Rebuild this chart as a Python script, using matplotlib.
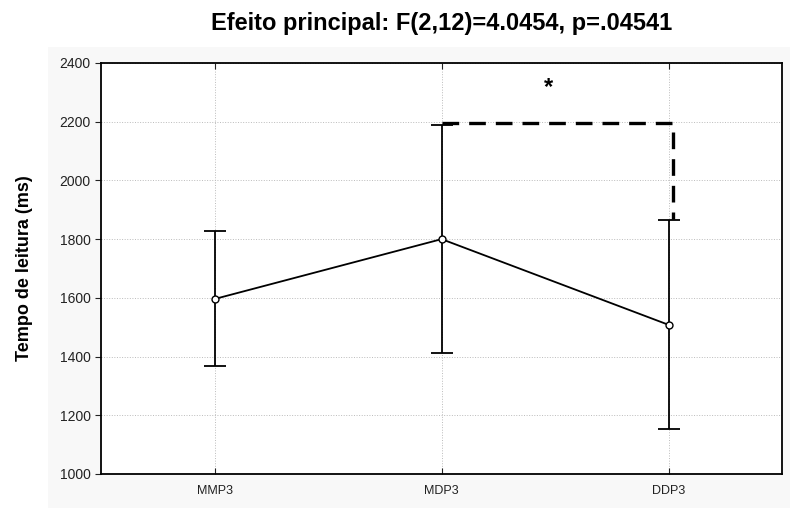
import matplotlib.pyplot as plt
import matplotlib.patches as patches

plt.rcParams['font.family'] = ['Liberation Sans', 'DejaVu Sans']

# data
conditions = ['MMP3', 'MDP3', 'DDP3']
means = [1596, 1800, 1508]
upper = [1828, 2189, 1866]
lower = [1368, 1411, 1153]

bracket_y = 2196
bracket_bottom = 1868
star_y = 2318

x = list(range(len(conditions)))
err_low = [m - lo for m, lo in zip(means, lower)]
err_high = [hi - m for m, hi in zip(means, upper)]

fig = plt.figure(figsize=(7.9, 5.08), dpi=100, facecolor='white')
# light grey panel behind the graph area
fig.patches.append(patches.Rectangle((48 / 790, 0), 1 - 48 / 790, 1 - 47 / 508,
                                     transform=fig.transFigure, facecolor='#f8f8f8',
                                     edgecolor='none', zorder=-1))
ax = fig.add_axes([0.128, 0.067, 0.862, 0.809])
ax.set_facecolor('white')

ax.errorbar(x, means, yerr=[err_low, err_high], color='black', lw=1.3,
            capsize=8, capthick=1.3, marker='o', markersize=5,
            markerfacecolor='white', markeredgecolor='black', zorder=3)

# significance bracket between MDP3 and DDP3
ax.plot([x[1], x[2] + 0.02, x[2] + 0.02], [bracket_y, bracket_y, bracket_bottom],
        color='black', lw=2.4, linestyle=(0, (5, 3.0)), zorder=4)
ax.text((x[1] + x[2]) / 2 - 0.03, star_y, '*', ha='center', va='center',
        fontsize=17, fontweight='bold')

ax.set_xlim(-0.5, 2.5)
ax.set_ylim(1000, 2400)
ax.set_yticks(range(1000, 2401, 200))
ax.set_xticks(x)
ax.set_xticklabels(conditions)
ax.grid(True, color='#bbbbbb', linestyle=':', lw=0.7)
ax.set_axisbelow(True)
ax.tick_params(axis='y', direction='out', length=4, labelsize=10, colors='#222222')
ax.tick_params(axis='x', direction='in', length=4, labelsize=9, top=True, pad=8,
               colors='#222222')
for s in ax.spines.values():
    s.set_linewidth(1.3)

ax.set_ylabel('Tempo de leitura (ms)', fontsize=13, fontweight='bold', labelpad=19)
ax.set_title('Efeito principal: F(2,12)=4.0454, p=.04541', fontsize=17,
             fontweight='bold', pad=24)

fig.savefig('out.png', dpi=100, facecolor=fig.get_facecolor())
